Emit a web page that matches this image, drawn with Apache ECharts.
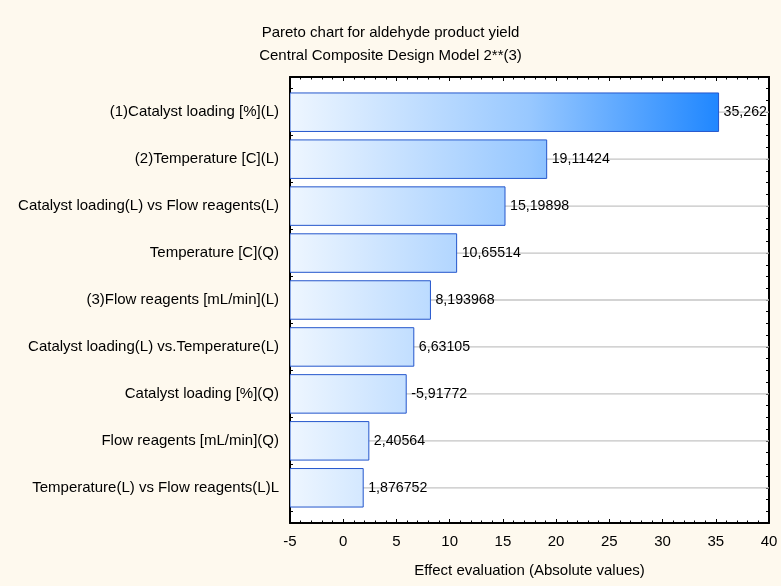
<!DOCTYPE html>
<html>
<head>
<meta charset="utf-8">
<script src="https://cdn.jsdelivr.net/npm/echarts@6/dist/echarts.min.js"></script>
<style>
  html, body { margin: 0; padding: 0; background: #FEF9EE; }
  #chart { width: 781px; height: 586px; }
</style>
</head>
<body>
<div id="chart"></div>
<script>
// Effect names, top to bottom
var effectNames = [
  '(1)Catalyst loading [%](L)',
  '(2)Temperature [C](L)',
  'Catalyst loading(L) vs Flow reagents(L)',
  'Temperature [C](Q)',
  '(3)Flow reagents [mL/min](L)',
  'Catalyst loading(L) vs.Temperature(L)',
  'Catalyst loading [%](Q)',
  'Flow reagents [mL/min](Q)',
  'Temperature(L) vs Flow reagents(L)L'
];
// Standardized effect estimates (sign kept for the label)
var effectValues = [35.26214, 19.11424, 15.19898, 10.65514, 8.193968, 6.63105, -5.91772, 2.40564, 1.876752];
// Horizontal axis ticks
var xTicks = [-5, 0, 5, 10, 15, 20, 25, 30, 35, 40];

var FONT = '"Liberation Sans", Arial, sans-serif';
var TEXT_SIZE = 15;
var VALUE_SIZE = 14.2;
var xMin = xTicks[0], xMax = xTicks[xTicks.length - 1];
var yMin = 0.25, yMax = effectNames.length + 0.75;

function fmt(v) { return String(v).replace('.', ','); }

var seriesData = effectValues.map(function (v, i) { return [i + 1, v]; });

var chart = echarts.init(document.getElementById('chart'), null, { renderer: 'canvas' });

function valueYAxis(position, showLabels) {
  return {
    type: 'value', position: position, inverse: true,
    min: yMin, max: yMax, interval: 0.25,
    axisLine: { show: true, onZero: false, lineStyle: { color: '#000', width: 2 } },
    axisTick: { show: true, inside: true, length: 3, lineStyle: { color: '#000', width: 1 } },
    splitLine: { show: false },
    axisLabel: {
      show: showLabels, margin: 11, color: '#000', fontSize: TEXT_SIZE, fontFamily: FONT,
      formatter: function (val) {
        var k = Math.round(val);
        if (Math.abs(val - k) > 1e-6 || k < 1 || k > effectNames.length) return '';
        return effectNames[k - 1];
      }
    }
  };
}

function valueXAxis(position, showLabels) {
  return {
    type: 'value', position: position,
    min: xMin, max: xMax, interval: 5,
    axisLine: { show: true, onZero: false, lineStyle: { color: '#000', width: 2 } },
    axisTick: { show: true, inside: true, length: 4, lineStyle: { color: '#000', width: 1 } },
    minorTick: { show: true, splitNumber: 5, length: 2.5, lineStyle: { color: '#000', width: 1 } },
    splitLine: { show: false },
    minorSplitLine: { show: false },
    axisLabel: { show: showLabels, margin: 11, color: '#000', fontSize: TEXT_SIZE, fontFamily: FONT },
    name: showLabels ? 'Effect evaluation (Absolute values)' : '',
    nameLocation: 'middle', nameGap: 40,
    nameTextStyle: { color: '#000', fontSize: TEXT_SIZE, fontFamily: FONT }
  };
}

var option = {
  backgroundColor: '#FEF9EE',
  animation: false,
  title: {
    text: 'Pareto chart for aldehyde product yield\nCentral Composite Design Model 2**(3)',
    left: 'center', top: 16,
    textStyle: { color: '#000', fontSize: TEXT_SIZE, fontWeight: 'normal', fontFamily: FONT, lineHeight: 23 }
  },
  grid: { left: 290, right: 12, top: 77, bottom: 63, show: true, backgroundColor: '#fff', borderWidth: 0 },
  xAxis: [valueXAxis('bottom', true), valueXAxis('top', false)],
  yAxis: [valueYAxis('left', true), valueYAxis('right', false)],
  series: [{
    type: 'custom',
    xAxisIndex: 0, yAxisIndex: 0,
    clip: true,
    data: seriesData,
    encode: { x: 1, y: 0 },
    renderItem: function (params, api) {
      var pos = api.value(0);
      var v = api.value(1);
      var half = 0.41;
      var gl = api.coord([xMin, pos]);
      var gr = api.coord([xMax, pos]);
      var a = api.coord([xMin, pos - half]);
      var b = api.coord([Math.abs(v), pos + half]);
      var fill = new echarts.graphic.LinearGradient(gl[0], 0, gr[0], 0, [
        { offset: 0, color: '#EEF6FF' },
        { offset: 0.5, color: '#98C8FF' },
        { offset: 0.9, color: '#1E86FF' },
        { offset: 1, color: '#1E86FF' }
      ], true);
      return {
        type: 'group',
        children: [
          {
            type: 'line',
            shape: { x1: gl[0], y1: gl[1], x2: gr[0], y2: gr[1] },
            style: { stroke: '#C4C4C4', lineWidth: 1.3 }
          },
          {
            type: 'rect',
            shape: { x: a[0], y: Math.min(a[1], b[1]), width: b[0] - a[0], height: Math.abs(b[1] - a[1]) },
            style: { fill: fill, stroke: '#2456CC', lineWidth: 1 }
          },
          {
            type: 'text',
            style: {
              text: fmt(v), x: b[0] + 5, y: gl[1],
              align: 'left', verticalAlign: 'middle',
              fill: '#000', font: VALUE_SIZE + 'px ' + FONT
            }
          }
        ]
      };
    }
  }]
};

chart.setOption(option);
</script>
</body>
</html>
